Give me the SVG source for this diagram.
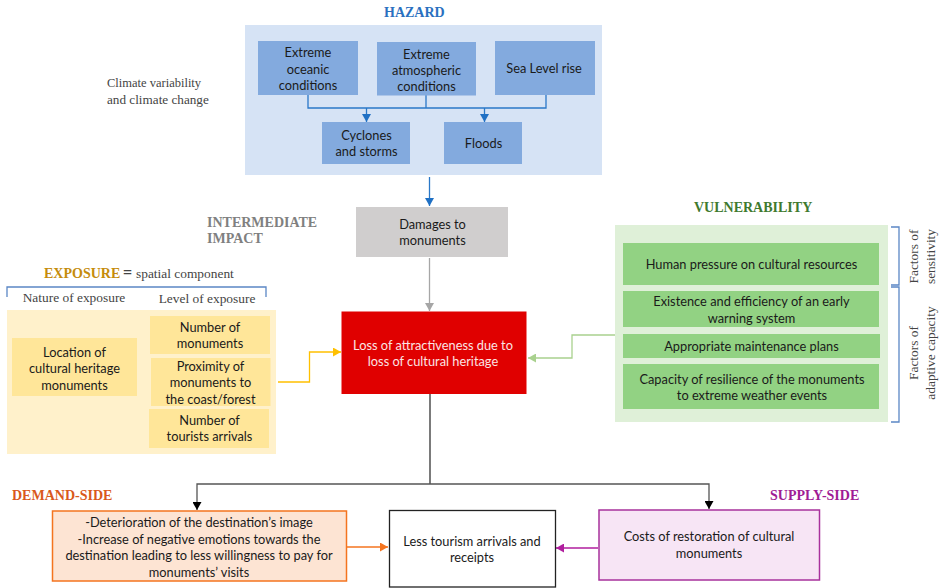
<svg xmlns="http://www.w3.org/2000/svg" width="942" height="588" viewBox="0 0 942 588">
<style>
text{font-family:"Lato","Noto Sans","Liberation Sans",sans-serif;font-size:12.8px;fill:#1a1a1a;text-anchor:middle}
.s{font-family:"Liberation Serif","DejaVu Serif",serif;font-size:13.400px;fill:#444}
.h{font-family:"Liberation Serif","DejaVu Serif",serif;font-size:14px;font-weight:bold;text-anchor:start}
.l{fill:none;stroke-width:1.300}
.bl{fill:#83aade}.ye{fill:#ffe699}.gr{fill:#92d283}
</style>
<defs>
<marker id="ab" markerUnits="userSpaceOnUse" markerWidth="9" markerHeight="9" refX="8" refY="4.500" orient="auto"><path d="M0 0L8 4.500L0 9z" fill="#1f70c4"/></marker>
<marker id="ag" markerUnits="userSpaceOnUse" markerWidth="9" markerHeight="9" refX="8" refY="4.500" orient="auto"><path d="M0 0L8 4.500L0 9z" fill="#a6a6a6"/></marker>
<marker id="ay" markerUnits="userSpaceOnUse" markerWidth="9" markerHeight="9" refX="8" refY="4.500" orient="auto"><path d="M0 0L8 4.500L0 9z" fill="#ffc000"/></marker>
<marker id="av" markerUnits="userSpaceOnUse" markerWidth="9" markerHeight="9" refX="8" refY="4.500" orient="auto"><path d="M0 0L8 4.500L0 9z" fill="#a9d18e"/></marker>
<marker id="ak" markerUnits="userSpaceOnUse" markerWidth="9" markerHeight="9" refX="8" refY="4.500" orient="auto"><path d="M0 0L8 4.500L0 9z" fill="#000"/></marker>
<marker id="ao" markerUnits="userSpaceOnUse" markerWidth="9" markerHeight="9" refX="8" refY="4.500" orient="auto"><path d="M0 0L8 4.500L0 9z" fill="#f4741f"/></marker>
<marker id="ap" markerUnits="userSpaceOnUse" markerWidth="9" markerHeight="9" refX="8" refY="4.500" orient="auto"><path d="M0 0L8 4.500L0 9z" fill="#b01e9e"/></marker>
</defs>
<rect id="hazard-bg" x="245" y="25" width="357" height="150" fill="#d6e3f5"/>
<rect id="exposure-bg" x="7" y="310" width="269" height="144" fill="#fff1cb"/>
<rect id="vulnerability-bg" x="615" y="225" width="273" height="197" fill="#dff0d8"/>
<g id="connectors">
<path class="l" stroke="#2a78c8" d="M308 95V108H546V95M426 95V108"/>
<path class="l" stroke="#2a78c8" d="M366.500 108V122" marker-end="url(#ab)"/>
<path class="l" stroke="#2a78c8" d="M484.500 108V122" marker-end="url(#ab)"/>
<path class="l" stroke="#2a78c8" d="M429.500 177V206" marker-end="url(#ab)"/>
<path class="l" stroke="#a6a6a6" d="M429.500 258V311" marker-end="url(#ag)"/>
<path class="l" stroke="#ffc000" d="M278 382H309.500V352H341" marker-end="url(#ay)"/>
<path class="l" stroke="#a9d18e" d="M615 335H572V358H528" marker-end="url(#av)"/>
<path fill="none" stroke="#333" stroke-width="1.300" d="M430 394V484"/>
<path fill="none" stroke="#555" stroke-width="1.300" d="M430 484H197V510" marker-end="url(#ak)"/>
<path fill="none" stroke="#555" stroke-width="1.300" d="M430 484H709V509" marker-end="url(#ak)"/>
<path class="l" stroke="#f4741f" d="M347 547H388" marker-end="url(#ao)"/>
<path class="l" stroke="#b01e9e" d="M598 548H556" marker-end="url(#ap)"/>
<path class="l" stroke="#5b87c5" d="M7 297V287H266V297"/>
<path class="l" stroke="#5b87c5" d="M891 227H899V285H891M891 287H899V422H891"/>
</g>
<g id="label-hazard"><text class="h" x="384" y="17" style="fill:#2a70c0">HAZARD</text></g>
<g id="label-climate"><text class="s" style="text-anchor:start;font-size:12.500px" x="107" y="87">Climate variability</text><text class="s" style="text-anchor:start;font-size:13.200px" x="107" y="104">and climate change</text></g>
<g id="n-oceanic"><rect class="bl" x="258" y="41" width="100" height="54"/><text x="308" y="57">Extreme</text><text x="308" y="73.500">oceanic</text><text x="308" y="89.500">conditions</text></g>
<g id="n-atmospheric"><rect class="bl" x="377" y="42" width="99" height="53.500"/><text x="426.500" y="58.500">Extreme</text><text x="426.500" y="74.500">atmospheric</text><text x="426.500" y="91">conditions</text></g>
<g id="n-sea"><rect class="bl" x="495" y="41" width="100" height="54"/><text x="544" y="73">Sea Level rise</text></g>
<g id="n-cyclones"><rect class="bl" x="322" y="122" width="88" height="42"/><text x="366.500" y="140">Cyclones</text><text x="366.500" y="156">and storms</text></g>
<g id="n-floods"><rect class="bl" x="444" y="122" width="78" height="42"/><text x="483.500" y="148">Floods</text></g>
<g id="label-intermediate"><text class="h" x="207" y="227" style="fill:#808080">INTERMEDIATE</text><text class="h" x="207" y="243" style="fill:#808080">IMPACT</text></g>
<g id="n-damages"><rect x="356" y="207" width="152" height="50" fill="#d0cece"/><text x="432.500" y="229">Damages to</text><text x="432.500" y="245">monuments</text></g>
<g id="n-loss"><rect x="341.500" y="311.500" width="185" height="82.500" fill="#e00000"/><text x="433" y="350" style="fill:#fbe4e4">Loss of attractiveness due to</text><text x="433" y="366" style="fill:#fbe4e4">loss of cultural heritage</text></g>
<g id="label-exposure"><text class="h" x="44" y="278" style="fill:#c58c0c">EXPOSURE</text><text class="s" x="123" y="278" style="text-anchor:start;font-size:16px;font-weight:bold">=</text><text class="s" x="136" y="278" style="text-anchor:start">spatial component</text></g>
<g id="label-nature"><text class="s" x="74" y="302">Nature of exposure</text></g>
<g id="label-level"><text class="s" x="207" y="303">Level of exposure</text></g>
<g id="n-location"><rect class="ye" x="12" y="338" width="125" height="58"/><text x="74.500" y="357">Location of</text><text x="74.500" y="373">cultural heritage</text><text x="74.500" y="389.500">monuments</text></g>
<g id="n-number"><rect class="ye" x="150" y="316" width="120" height="38"/><text x="210" y="332">Number of</text><text x="210" y="348">monuments</text></g>
<g id="n-proximity"><rect class="ye" x="151" y="358" width="119.500" height="48"/><text x="210.500" y="370.500">Proximity of</text><text x="210.500" y="387">monuments to</text><text x="210.500" y="403.500">the coast/forest</text></g>
<g id="n-tourists"><rect class="ye" x="149" y="409" width="120" height="39"/><text x="209.500" y="425">Number of</text><text x="209.500" y="441">tourists arrivals</text></g>
<g id="label-vulnerability"><text class="h" x="694" y="212" style="fill:#3f7a2e">VULNERABILITY</text></g>
<g id="n-pressure"><rect class="gr" x="623" y="243" width="256" height="42"/><text x="751.500" y="269">Human pressure on cultural resources</text></g>
<g id="n-warning"><rect class="gr" x="623" y="291" width="256" height="36"/><text x="751.500" y="306">Existence and efficiency of an early</text><text x="751.500" y="322.500">warning system</text></g>
<g id="n-maintenance"><rect class="gr" x="623" y="334" width="257" height="24"/><text x="751.500" y="351">Appropriate maintenance plans</text></g>
<g id="n-resilience"><rect class="gr" x="623" y="364" width="256" height="45"/><text x="752" y="384">Capacity of resilience of the monuments</text><text x="752" y="400">to extreme weather events</text></g>
<g id="label-sensitivity"><text class="s" transform="translate(918 256.500) rotate(-90)">Factors of</text><text class="s" transform="translate(935 256.500) rotate(-90)">sensitivity</text></g>
<g id="label-adaptive"><text class="s" transform="translate(918 353) rotate(-90)">Factors of</text><text class="s" transform="translate(935 353) rotate(-90)">adaptive capacity</text></g>
<g id="label-demand"><text class="h" x="12" y="500" style="fill:#d9591c">DEMAND-SIDE</text></g>
<g id="n-demand"><rect x="52.500" y="511" width="294" height="70" fill="#fde4d3" stroke="#f4741f" stroke-width="1.500"/><text x="199" y="527">-Deterioration of the destination’s image</text><text x="199" y="544">-Increase of negative emotions towards the</text><text x="199" y="560">destination leading to less willingness to pay for</text><text x="199" y="576.500">monuments’ visits</text></g>
<g id="n-tourism"><rect x="389.500" y="510.500" width="166" height="76.500" fill="#fff" stroke="#222" stroke-width="1.300"/><text x="472" y="546">Less tourism arrivals and</text><text x="472" y="562">receipts</text></g>
<g id="label-supply"><text class="h" x="770" y="500" style="fill:#a01c95">SUPPLY-SIDE</text></g>
<g id="n-supply"><rect x="599" y="510" width="220.500" height="70" fill="#f7e5f5" stroke="#a8329c" stroke-width="1.500"/><text x="709" y="541">Costs of restoration of cultural</text><text x="709" y="558">monuments</text></g>
</svg>
